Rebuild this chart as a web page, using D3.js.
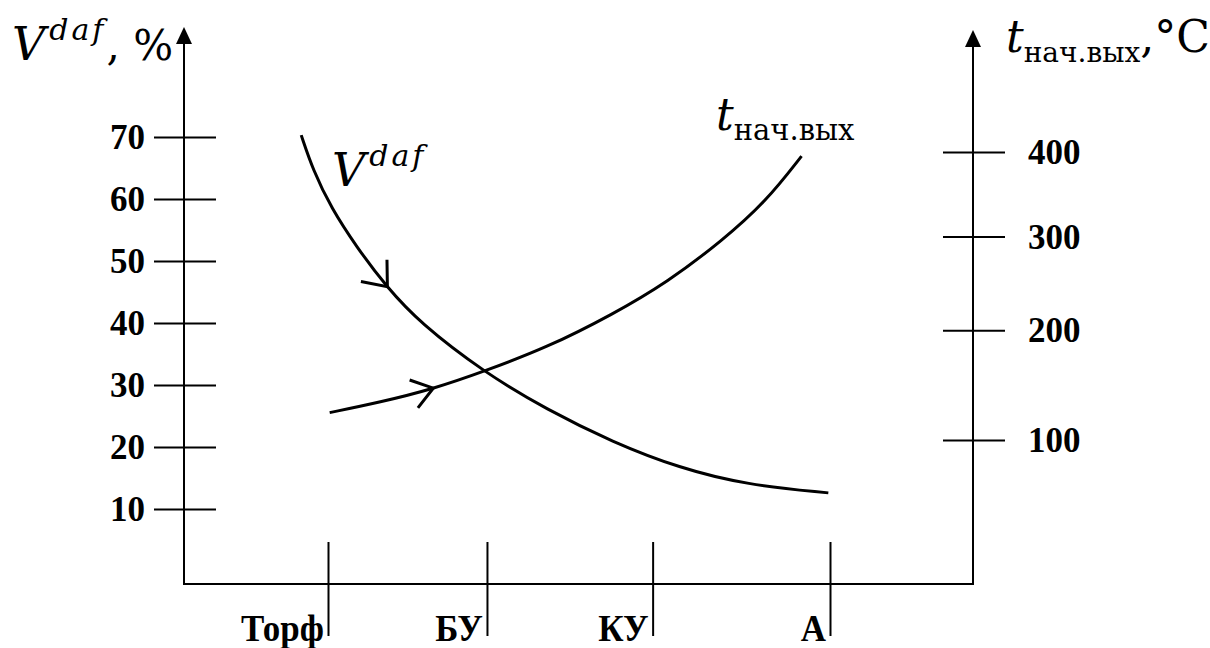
<!DOCTYPE html>
<html>
<head>
<meta charset="utf-8">
<script src="https://cdn.jsdelivr.net/npm/d3@7"></script>
<style>
  html, body { margin: 0; padding: 0; background: #fff; }
  svg { display: block; }
  .num { font-family: "Liberation Serif", "Times New Roman", serif; font-weight: bold; fill: #000; }
  .math { font-family: "DejaVu Serif", serif; fill: #000; }
</style>
</head>
<body>
<svg id="chart" width="1210" height="648"></svg>
<script>
// Coal rank categories and their positions along the rank axis
const categories = ["Торф", "БУ", "КУ", "А"];
const categoryPos = [1, 1.95, 2.94, 4];

// Volatile matter yield V^daf, % (rank position, value)
const volatileRank = [0.84, 0.91, 1.02, 1.17, 1.35, 1.55, 1.93, 2.31, 2.70, 3.10, 3.50, 3.99];
const volatileVal  = [70.3, 64.7, 58.5, 52.3, 45.8, 40.0, 32.1, 26.0, 20.8, 16.6, 13.9, 12.6];

// Onset temperature of volatiles release t_нач.вых, °C (rank position, value)
const onsetRank = [1.01, 1.31, 1.63, 1.93, 2.31, 2.70, 3.03, 3.36, 3.62, 3.83];
const onsetVal  = [123, 132, 144, 160, 183, 216, 250, 296, 341, 395];

// Tick values of both value axes
const volatileTicks = [10, 20, 30, 40, 50, 60, 70];
const onsetTicks = [100, 200, 300, 400];

// Direction arrows sit on these points of each curve
const volatileArrowIdx = 4;
const onsetArrowIdx = 2;

const svg = d3.select("#chart");

const xLeft = 184, xRight = 973, yBase = 584;

const x = d3.scaleLinear().domain([1, 4]).range([328, 830]);
const yV = d3.scaleLinear().domain([10, 70]).range([509, 137]);
const yT = d3.scalePow().exponent(0.7).domain([100, 400]).range([440, 152]);

// ---- axis frame with arrowheads ----
const frame = svg.append("g").attr("stroke", "#000").attr("stroke-width", 2).attr("fill", "none");
frame.append("path").attr("d", `M${xLeft},40 V${yBase} H${xRight} V42`);
svg.append("path").attr("d", `M${xLeft},27 L${xLeft - 8},44 L${xLeft + 8},44 Z`).attr("fill", "#000");
svg.append("path").attr("d", `M${xRight},30 L${xRight - 8},47 L${xRight + 8},47 Z`).attr("fill", "#000");

// ---- left axis: V^daf ----
const gL = svg.append("g").attr("transform", `translate(${xLeft},0)`)
  .call(d3.axisLeft(yV).tickValues(volatileTicks).tickSize(30).tickPadding(9).tickFormat(d3.format("d")));
gL.select(".domain").remove();
gL.selectAll(".tick line").attr("x1", 32).attr("x2", -30).attr("stroke", "#000").attr("stroke-width", 2);
gL.selectAll(".tick text").attr("class", "num").attr("font-size", 35).attr("dy", "0.33em");
gL.attr("font-family", null).attr("font-size", null);

// ---- right axis: t_нач.вых ----
const gR = svg.append("g").attr("transform", `translate(${xRight},0)`)
  .call(d3.axisRight(yT).tickValues(onsetTicks).tickSize(32).tickPadding(23).tickFormat(d3.format("d")));
gR.select(".domain").remove();
gR.selectAll(".tick line").attr("x1", -30).attr("x2", 32).attr("stroke", "#000").attr("stroke-width", 2);
gR.selectAll(".tick text").attr("class", "num").attr("font-size", 35).attr("dy", "0.33em");
gR.attr("font-family", null).attr("font-size", null);

// ---- bottom axis: coal rank ----
const gB = svg.append("g").attr("transform", `translate(0,${yBase})`)
  .call(d3.axisBottom(x).tickValues(categoryPos).tickSize(52).tickFormat((d, i) => categories[i]));
gB.select(".domain").remove();
gB.selectAll(".tick line").attr("y1", -42).attr("y2", 52).attr("stroke", "#000").attr("stroke-width", 2);
gB.selectAll(".tick text").attr("class", "num").attr("font-size", 38)
  .attr("text-anchor", "end").attr("x", -5).attr("y", 57).attr("dy", null)
  .attr("transform", "scale(0.92,1)");
gB.attr("font-family", null).attr("font-size", null);

// ---- curves ----
const line = d3.line().curve(d3.curveBasis);
const vPts = volatileRank.map((r, i) => [x(r), yV(volatileVal[i])]);
const tPts = onsetRank.map((r, i) => [x(r), yT(onsetVal[i])]);

const vPath = svg.append("path").attr("d", line(vPts))
  .attr("fill", "none").attr("stroke", "#000").attr("stroke-width", 3);
const tPath = svg.append("path").attr("d", line(tPts))
  .attr("fill", "none").attr("stroke", "#000").attr("stroke-width", 3);

// open chevron showing the direction of travel along a curve
function chevron(pathSel, pt, spread, len) {
  const node = pathSel.node();
  const total = node.getTotalLength();
  let best = 0, bestD = Infinity;
  for (let s = 0; s <= total; s += 0.5) {
    const p = node.getPointAtLength(s);
    const d = (p.x - pt[0]) ** 2 + (p.y - pt[1]) ** 2;
    if (d < bestD) { bestD = d; best = s; }
  }
  const tip = node.getPointAtLength(best);
  const a = node.getPointAtLength(Math.max(0, best - 3));
  const b = node.getPointAtLength(Math.min(total, best + 3));
  const ang = Math.atan2(b.y - a.y, b.x - a.x) + Math.PI;
  const p1 = [tip.x + len * Math.cos(ang - spread), tip.y + len * Math.sin(ang - spread)];
  const p2 = [tip.x + len * Math.cos(ang + spread), tip.y + len * Math.sin(ang + spread)];
  svg.append("path")
    .attr("d", `M${p1[0]},${p1[1]} L${tip.x},${tip.y} L${p2[0]},${p2[1]}`)
    .attr("fill", "none").attr("stroke", "#000").attr("stroke-width", 3)
    .attr("stroke-linejoin", "miter");
}
chevron(vPath, vPts[volatileArrowIdx], 0.68, 27);
chevron(tPath, tPts[onsetArrowIdx], 0.62, 25);

// ---- labels ----
function supLabel(xp, yp, base, sup, size, supSize, tail) {
  const t = svg.append("text").attr("class", "math").attr("x", xp).attr("y", yp);
  t.append("tspan").attr("font-style", "italic").attr("font-size", size).text(base);
  t.append("tspan").attr("font-style", "italic").attr("font-size", supSize)
    .attr("letter-spacing", 3).attr("dx", 4).attr("dy", -20).text(sup);
  if (tail) t.append("tspan").attr("font-size", size - 4).attr("dy", 20).text(tail);
  return t;
}
function subLabel(xp, yp, base, sub, size, subSize, tail) {
  const t = svg.append("text").attr("class", "math").attr("x", xp).attr("y", yp);
  t.append("tspan").attr("font-style", "italic").attr("font-size", size).text(base);
  t.append("tspan").attr("font-size", subSize).attr("dy", 10).text(sub);
  if (tail) t.append("tspan").attr("font-size", size).attr("dy", -10).text(tail);
  return t;
}

supLabel(12, 60, "V", "daf", 46, 30, ", %");
subLabel(1006, 52, "t", "нач.вых", 44, 28, ",°C");
supLabel(332, 186, "V", "daf", 46, 30, null);
subLabel(716, 130, "t", "нач.вых", 44, 29, null);
</script>
</body>
</html>
